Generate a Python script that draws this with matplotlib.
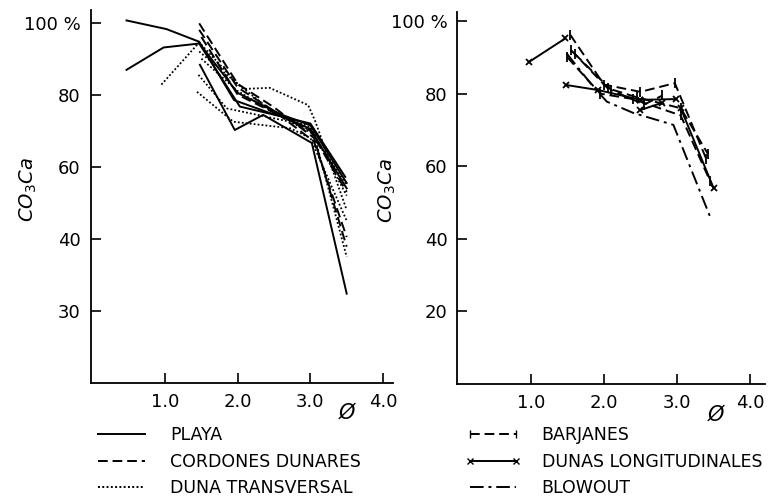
import matplotlib
matplotlib.use("Agg")
import matplotlib.pyplot as plt
from matplotlib.lines import Line2D

plt.rcParams['font.family'] = ['DejaVu Sans']

# ---- left panel data (phi vs CO3Ca %) ----
playa_x = [
    [0.47, 1.02, 1.47, 1.95, 2.5, 3.0, 3.48],
    [0.47, 0.98, 1.47, 2.03, 2.62, 3.0, 3.5],
    [1.48, 1.96, 2.35, 3.02, 3.5],
    [1.5, 2.0, 2.6, 3.0, 3.5],
]
playa_y = [
    [100.6, 98.2, 94.7, 78.5, 74.5, 72.0, 57.2],
    [86.9, 93.1, 94.2, 76.7, 73.9, 70.5, 54.0],
    [88.3, 70.2, 74.4, 66.6, 24.8],
    [93.5, 80.5, 74.5, 71.5, 55.5],
]
cordones_x = [
    [1.47, 2.0, 2.5, 3.05, 3.5],
    [1.47, 2.0, 2.5, 3.05, 3.5],
    [1.5, 2.0, 2.6, 3.0, 3.5],
]
cordones_y = [
    [99.8, 83.0, 76.5, 68.0, 37.8],
    [98.0, 82.0, 75.5, 67.0, 40.5],
    [96.0, 80.0, 74.0, 70.0, 53.0],
]
duna_x = [
    [0.95, 1.47, 2.0, 2.5, 3.0, 3.5],
    [1.47, 2.08, 2.44, 2.97, 3.07, 3.5],
    [1.46, 1.85, 2.72, 3.05, 3.5],
    [1.44, 1.94, 2.72, 3.0, 3.5],
    [1.5, 2.0, 2.5, 3.0, 3.5],
]
duna_y = [
    [82.8, 94.5, 83.0, 75.0, 70.0, 55.0],
    [92.0, 81.6, 81.9, 77.1, 72.5, 48.0],
    [85.5, 76.2, 72.5, 69.0, 35.0],
    [80.8, 72.5, 70.7, 68.0, 45.0],
    [90.0, 81.0, 75.0, 71.0, 52.0],
]

# ---- right panel data ----
barjanes_x = [
    [1.54, 2.0, 2.5, 2.97, 3.4],
    [1.55, 2.05, 2.45, 3.05, 3.42],
    [1.5, 1.95, 2.4, 3.05, 3.45],
    [1.6, 2.1, 2.55, 2.8],
]
barjanes_y = [
    [96.2, 82.5, 80.5, 82.9, 62.0],
    [92.0, 81.5, 79.0, 76.0, 63.5],
    [90.0, 80.0, 78.5, 74.0, 56.0],
    [91.0, 81.0, 77.0, 79.5],
]
longit_x = [
    [0.98, 1.47],
    [1.48, 1.92, 2.5],
    [2.5, 2.99],
    [2.5, 2.8],
    [3.05, 3.5],
]
longit_y = [
    [88.8, 95.2],
    [82.4, 81.0, 78.3],
    [78.3, 78.5],
    [75.5, 77.5],
    [76.0, 54.0],
]
blowout_x = [[1.49, 1.85, 2.04, 2.40, 2.95, 3.45]]
blowout_y = [[91.1, 82.0, 77.8, 74.7, 71.4, 46.2]]

x_ticks = [1, 2, 3, 4]
x_ticklabels = ['1.0', '2.0', '3.0', '4.0']
y_ticks = [20, 40, 60, 80, 100]
left_yticklabels = ['30', '40', '60', '80', '100 %']
right_yticklabels = ['20', '40', '60', '80', '100 %']

LW = 1.4
DOT = (0, (1, 1.2))
DASH = (0, (5, 2.5))
DASHDOT = (0, (7, 2.5, 1.5, 2.5))

fig = plt.figure(figsize=(7.74, 5), dpi=100)
ax1 = fig.add_axes([0.117, 0.234, 0.391, 0.746])
ax2 = fig.add_axes([0.591, 0.232, 0.398, 0.744])

for xs, ys in zip(playa_x, playa_y):
    ax1.plot(xs, ys, color='black', lw=LW, ls='-')
for xs, ys in zip(cordones_x, cordones_y):
    ax1.plot(xs, ys, color='black', lw=LW, ls=DASH)
for xs, ys in zip(duna_x, duna_y):
    ax1.plot(xs, ys, color='black', lw=LW - 0.1, ls=DOT)

for xs, ys in zip(barjanes_x, barjanes_y):
    ax2.plot(xs, ys, color='black', lw=LW, ls=DASH, marker='|', ms=7, mew=1.3)
for xs, ys in zip(longit_x, longit_y):
    ax2.plot(xs, ys, color='black', lw=LW, ls='-', marker='x', ms=4, mew=1.3)
for xs, ys in zip(blowout_x, blowout_y):
    ax2.plot(xs, ys, color='black', lw=LW, ls=DASHDOT)

for ax, ylabels, xlim, ylim in [
    (ax1, left_yticklabels, (-0.025, 4.14), (0, 103.5)),
    (ax2, right_yticklabels, (-0.004, 4.21), (0, 102.5)),
]:
    ax.set_xlim(*xlim)
    ax.set_ylim(*ylim)
    ax.spines['top'].set_visible(False)
    ax.spines['right'].set_visible(False)
    ax.spines['left'].set_linewidth(1.3)
    ax.spines['bottom'].set_linewidth(1.3)
    ax.set_xticks(x_ticks)
    ax.set_xticklabels(x_ticklabels)
    ax.set_yticks(y_ticks)
    ax.set_yticklabels(ylabels)
    ax.tick_params(direction='in', length=7, width=1.2, labelsize=13, pad=7)
    ax.set_ylabel('CO$_3$Ca', fontsize=14, fontstyle='italic', va='center')
    ax.set_xlabel('\u00d8', fontsize=15, fontstyle='italic', va='center')

ax1.yaxis.set_label_coords(-0.207, 0.517)
ax2.yaxis.set_label_coords(-0.228, 0.52)
ax1.xaxis.set_label_coords(0.848, -0.08)
ax2.xaxis.set_label_coords(0.839, -0.081)

# legends
left_handles = [
    Line2D([], [], color='black', lw=LW, ls='-'),
    Line2D([], [], color='black', lw=LW, ls=DASH),
    Line2D([], [], color='black', lw=LW, ls=DOT),
]
left_labels = ['PLAYA', 'CORDONES DUNARES', 'DUNA TRANSVERSAL']
right_handles = [
    Line2D([], [], color='black', lw=LW, ls=DASH, marker='|', ms=6),
    Line2D([], [], color='black', lw=LW, ls='-', marker='x', ms=4),
    Line2D([], [], color='black', lw=LW, ls=DASHDOT),
]
right_labels = ['BARJANES', 'DUNAS LONGITUDINALES', 'BLOWOUT']

common = dict(frameon=False, fontsize=12.5, handlelength=3.3, handletextpad=1.15,
              labelspacing=0.47, borderpad=0, borderaxespad=0, loc='upper left')
fig.legend(left_handles, left_labels, bbox_to_anchor=(0.120, 0.147), numpoints=2, **common)
fig.legend(right_handles, right_labels, bbox_to_anchor=(0.600, 0.147), numpoints=2, **common)

fig.savefig('out.png', dpi=100)
